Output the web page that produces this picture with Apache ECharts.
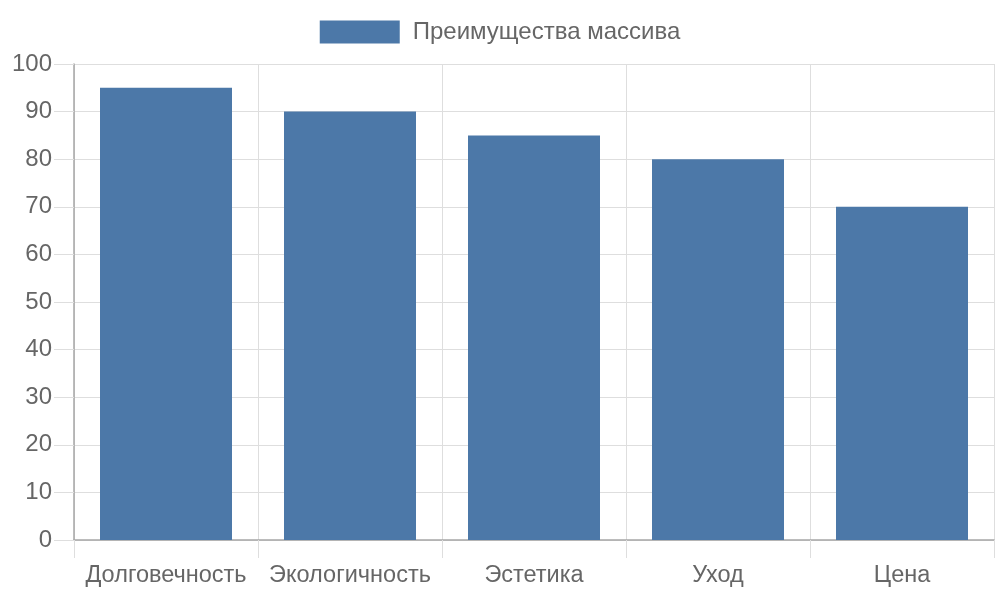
<!DOCTYPE html>
<html>
<head>
<meta charset="utf-8">
<script src="https://cdn.jsdelivr.net/npm/echarts@6/dist/echarts.min.js"></script>
<style>
  html, body { margin: 0; padding: 0; background: #fff; }
  #chart { width: 1000px; height: 600px; }
</style>
</head>
<body>
<div id="chart"></div>
<script>
var seriesName = 'Преимущества массива';
var categories = ['Долговечность', 'Экологичность', 'Эстетика', 'Уход', 'Цена'];
var values = [95, 90, 85, 80, 70];

var font = '"Liberation Sans", Arial, sans-serif';
var gridColor = '#dedede';

var option = {
    animation: false,
    textStyle: { fontFamily: font },
    legend: {
        top: 15,
        left: 'center',
        icon: 'rect',
        itemWidth: 80,
        itemHeight: 23,
        data: [seriesName],
        textStyle: { fontSize: 24, color: '#666', fontFamily: font, padding: [0, 0, 0, 8] }
    },
    grid: { left: 74, right: 6, top: 64, bottom: 60 },
    xAxis: {
        type: 'category',
        data: categories,
        boundaryGap: true,
        axisLine: { lineStyle: { color: '#a6a6a6', width: 1.5 } },
        axisTick: { show: true, interval: 0, length: 18, lineStyle: { color: gridColor } },
        splitLine: { show: true, interval: 0, lineStyle: { color: gridColor } },
        axisLabel: { interval: 0, margin: 24, fontSize: 23.5, color: '#666', fontFamily: font }
    },
    yAxis: {
        type: 'value',
        min: 0,
        max: 100,
        interval: 10,
        axisLine: { show: true, lineStyle: { color: '#a6a6a6', width: 1.5 } },
        axisTick: { show: true, length: 20, lineStyle: { color: gridColor } },
        splitLine: { show: true, lineStyle: { color: gridColor } },
        axisLabel: { margin: 22, fontSize: 24, color: '#666', fontFamily: font }
    },
    series: [{
        name: seriesName,
        type: 'bar',
        data: values,
        barWidth: 132,
        itemStyle: { color: '#4c78a8' }
    }]
};

var myChart = echarts.init(document.getElementById('chart'));
myChart.setOption(option);
</script>
</body>
</html>
